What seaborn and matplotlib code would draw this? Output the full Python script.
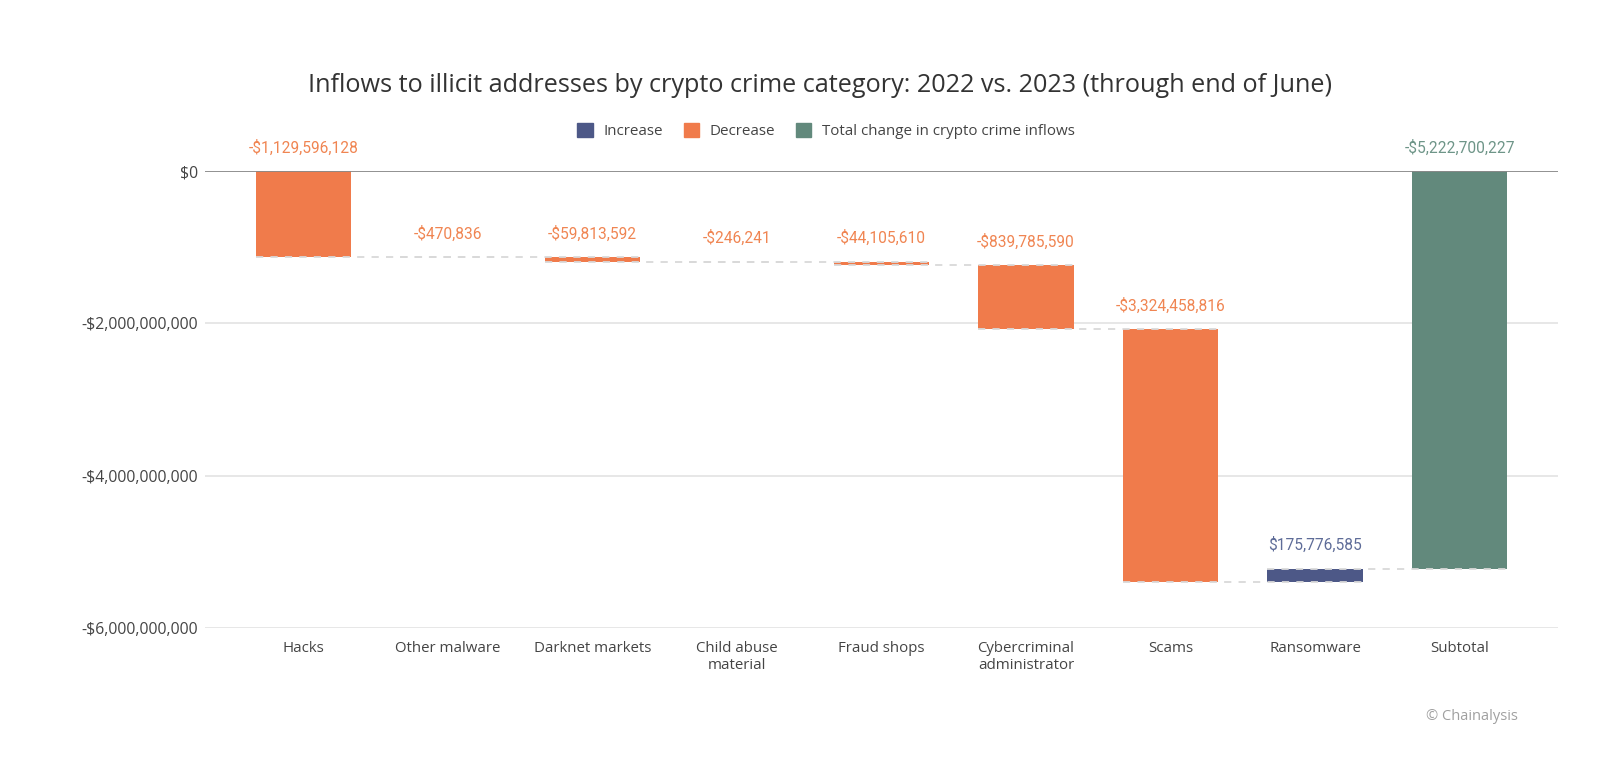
import numpy as np
import pandas as pd
import seaborn as sns
import matplotlib.pyplot as plt
from matplotlib.patches import Patch
from matplotlib.ticker import FuncFormatter

# data
categories = ['Hacks', 'Other malware', 'Darknet markets', 'Child abuse\nmaterial', 'Fraud shops',
              'Cybercriminal\nadministrator', 'Scams', 'Ransomware', 'Subtotal']
changes = [-1129596128, -470836, -59813592, -246241, -44105610,
           -839785590, -3324458816, 175776585]
subtotal = -5222700227
y_ticks = [0, -2e9, -4e9, -6e9]

c_inc = '#4D5887'
c_dec = '#F07B4B'
c_tot = '#62897C'
lab_inc = '#5E6C98'
lab_dec = '#F08552'
lab_tot = '#6E9588'

# waterfall bookkeeping
ends = np.cumsum(changes)
starts = np.concatenate([[0], ends[:-1]])
values = changes + [subtotal]
starts = list(starts) + [0]
ends = list(ends) + [subtotal]
kinds = ['Increase' if v > 0 else 'Decrease' for v in changes] + ['Total']
colors = [c_inc if k == 'Increase' else c_dec if k == 'Decrease' else c_tot for k in kinds]
lab_colors = [lab_inc if k == 'Increase' else lab_dec if k == 'Decrease' else lab_tot for k in kinds]

df = pd.DataFrame({'cat': categories, 'val': values, 'start': starts, 'end': ends})

sns.set_style('white')
plt.rcParams['font.family'] = ['Open Sans', 'DejaVu Sans']

fig = plt.figure(figsize=(16.2, 7.7), dpi=100)
ax = fig.add_axes([0.1265, 0.1844, 0.8352, 0.5935])

bw = 0.66
sns.barplot(data=df, x='cat', y='val', hue='cat', palette=colors, order=categories,
            hue_order=categories, width=bw, legend=False, ax=ax, saturation=1, zorder=2)

# move each bar to its floating position
for patch, s, e in zip(ax.patches, df['start'], df['end']):
    patch.set_y(min(s, e))
    patch.set_height(abs(e - s))
    patch.set_linewidth(0)

# dashed connectors between bars
for i in range(len(categories) - 1):
    ax.hlines(df['end'][i], i - bw / 2, i + 1 + bw / 2, colors='#d9d9d9',
              linestyles=(0, (4, 4)), lw=1.3, zorder=3)

# value labels
for i, (v, s, e) in enumerate(zip(df['val'], df['start'], df['end'])):
    txt = f"-${abs(v):,}" if v < 0 else f"${v:,}"
    ax.annotate(txt, (i, max(s, e)), xytext=(0, 17), textcoords='offset points',
                ha='center', va='center', fontsize=11.2, color=lab_colors[i],
                family=['Roboto', 'DejaVu Sans'])

ax.set_xlim(-0.68, len(categories) - 1 + 0.68)
ax.set_ylim(-6e9, 0)
ax.set_yticks(y_ticks)
ax.yaxis.set_major_formatter(FuncFormatter(lambda v, p: '$0' if v == 0 else f"-${abs(v):,.0f}"))
ax.grid(axis='y', color='#e3e3e3', lw=1.2, zorder=0)
ax.axhline(0, color='#8a8a8a', lw=1.3, zorder=4)
for sp in ax.spines.values():
    sp.set_visible(False)
ax.tick_params(axis='both', length=0, labelcolor='#444444')
ax.tick_params(axis='x', pad=9, labelsize=10.8)
ax.tick_params(axis='y', pad=5, labelsize=11.3)
ax.set_xlabel('')
ax.set_ylabel('')

fig.text(0.506, 1 - 86 / 770, 'Inflows to illicit addresses by crypto crime category: 2022 vs. 2023 (through end of June)',
         ha='center', va='center', fontsize=18.2, color='#333333')

handles = [Patch(color=c_inc, label='Increase'), Patch(color=c_dec, label='Decrease'),
           Patch(color=c_tot, label='Total change in crypto crime inflows')]
fig.legend(handles=handles, loc='center', bbox_to_anchor=(0.51, 1 - 131 / 770), ncol=3,
           frameon=False, fontsize=10.9, handlelength=1.0, handleheight=1.0,
           handletextpad=0.7, columnspacing=1.4, labelcolor='#444444')

fig.text(1472 / 1620, 1 - 716 / 770, '© Chainalysis', ha='center', va='center',
         fontsize=10.5, color='#a0a0a0')

fig.savefig('out.png', dpi=100, facecolor='white')
